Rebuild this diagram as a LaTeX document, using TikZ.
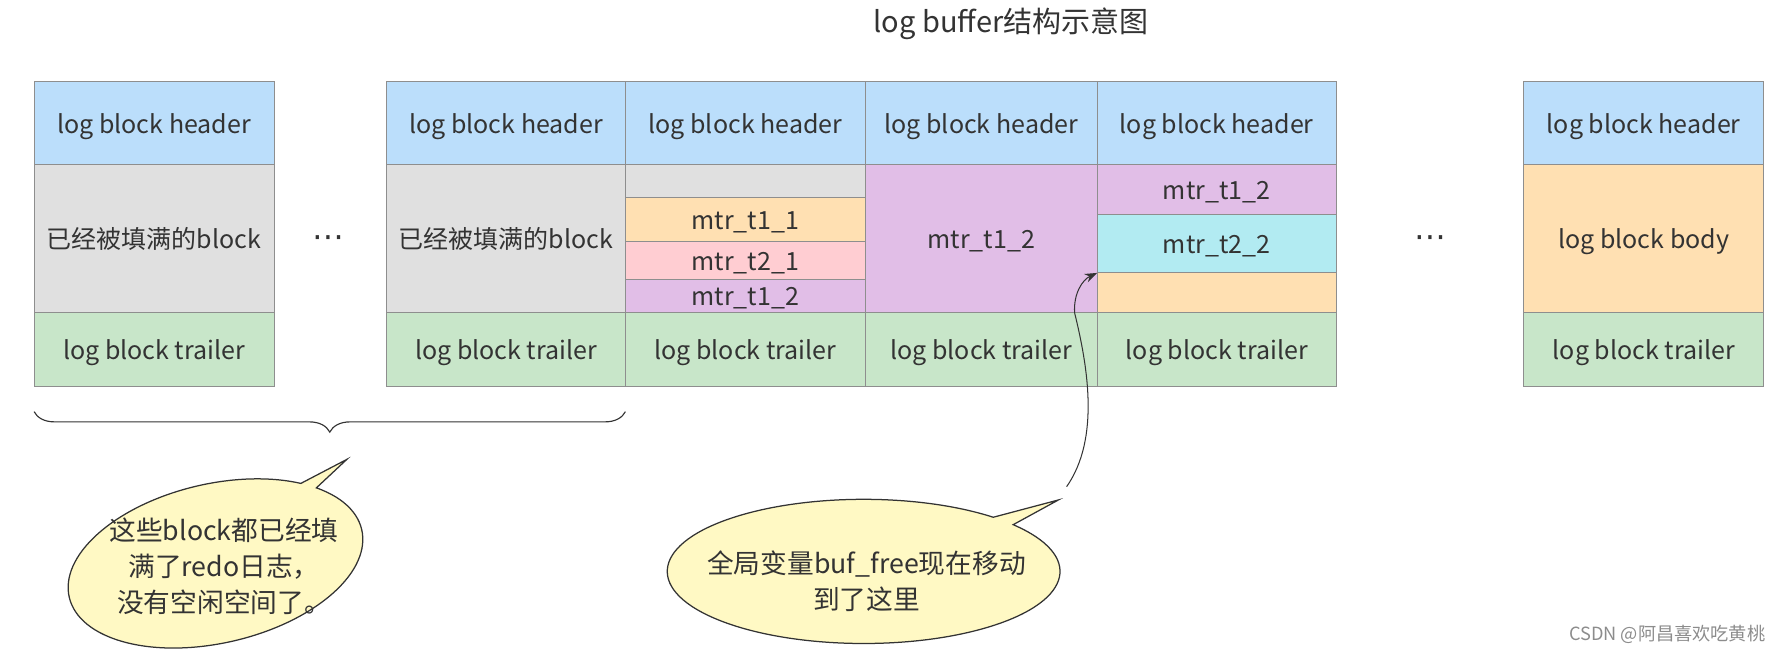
\documentclass[tikz,border=0pt]{standalone}
\usepackage{fontspec}
\setmainfont{Noto Sans CJK SC}
\newfontfamily\symfont{DejaVu Sans}
\usetikzlibrary{arrows.meta, positioning, decorations.pathreplacing}

\definecolor{headblue}{HTML}{BBDEFB}
\definecolor{fullgray}{HTML}{E0E0E0}
\definecolor{trailgreen}{HTML}{C8E6C9}
\definecolor{mtrorange}{HTML}{FFE0B2}
\definecolor{mtrpink}{HTML}{FFCDD2}
\definecolor{mtrpurple}{HTML}{E1BEE7}
\definecolor{mtrcyan}{HTML}{B2EBF2}
\definecolor{notefill}{HTML}{FFF9C4}
\definecolor{cellline}{HTML}{8E8E8E}
\definecolor{textdark}{HTML}{333333}

\begin{document}
\begin{tikzpicture}[x=1pt, y=-1pt]
    % --- Style Definitions ---
    \tikzset{
        % one cell of a log block
        cell style/.style={
            draw=cellline,
            line width=0.9pt,
            inner sep=0pt,
            outer sep=0pt,
            text=textdark,
            font=\fontsize{22}{26}\selectfont,
            text height=17pt,
            text depth=0pt,
            anchor=north west
        },
        % Fills and heights
        head fill/.style={fill=headblue, minimum height=73pt},
        full fill/.style={fill=fullgray, minimum height=130pt},
        trail fill/.style={fill=trailgreen, minimum height=65pt},
        body fill/.style={fill=mtrorange, minimum height=130pt},
        % Text styling
        title text/.style={font=\fontsize{25.5}{28}\selectfont, text=textdark},
        dots text/.style={font=\symfont\fontsize{28}{30}\selectfont, text=textdark},
        note text/.style={font=\fontsize{23.5}{32}\selectfont, align=center, text=textdark},
        mark text/.style={font=\fontsize{16}{18}\selectfont, text=black!45},
        % Callout bubble
        note style/.style={draw=textdark, line width=1.1pt, fill=notefill},
        % Brace and arrow
        group brace/.style={
            decorate,
            decoration={brace, mirror, amplitude=18pt},
            draw=textdark,
            line width=1pt
        },
        pointer arrow/.style={
            -{Stealth[length=11pt, width=8pt]},
            draw=textdark,
            line width=0.9pt
        }
    }

    \useasboundingbox (0,0) rectangle (1568,577);

    % Title
    \node[title text] (title) at (889,21) {log buffer结构示意图};

    % ==========================================
    % FIRST BLOCK (already filled)
    % ==========================================
    \node[cell style, head fill, minimum width=211pt] (b1_head) at (30,72) {log block header};
    \node[cell style, full fill, minimum width=211pt, below=0pt of b1_head] (b1_body) {已经被填满的block};
    \node[cell style, trail fill, minimum width=211pt, below=0pt of b1_body] (b1_trail) {log block trailer};

    \node[dots text] (dots_left) at (289,212) {⋯};

    % ==========================================
    % SECOND GROUP OF BLOCKS
    % ==========================================
    % 1. filled block
    \node[cell style, head fill, minimum width=210pt] (b2_head) at (340,72) {log block header};
    \node[cell style, full fill, minimum width=210pt, below=0pt of b2_head] (b2_body) {已经被填满的block};
    \node[cell style, trail fill, minimum width=210pt, below=0pt of b2_body] (b2_trail) {log block trailer};

    % 2. block holding mtr_t1_1, mtr_t2_1, mtr_t1_2
    \node[cell style, head fill, minimum width=211pt, right=0pt of b2_head] (b3_head) {log block header};
    \node[cell style, fill=fullgray, minimum width=211pt, minimum height=29pt, below=0pt of b3_head] (b3_used) {};
    \node[cell style, fill=mtrorange, minimum width=211pt, minimum height=38.5pt, below=0pt of b3_used] (b3_t11) {mtr\_t1\_1};
    \node[cell style, fill=mtrpink, minimum width=211pt, minimum height=33pt, below=0pt of b3_t11] (b3_t21) {mtr\_t2\_1};
    \node[cell style, fill=mtrpurple, minimum width=211pt, minimum height=29.5pt, below=0pt of b3_t21] (b3_t12) {mtr\_t1\_2};
    \node[cell style, trail fill, minimum width=211pt, below=0pt of b3_t12] (b3_trail) {log block trailer};

    % 3. block filled by mtr_t1_2
    \node[cell style, head fill, minimum width=204pt, right=0pt of b3_head] (b4_head) {log block header};
    \node[cell style, fill=mtrpurple, minimum width=204pt, minimum height=130pt, below=0pt of b4_head] (b4_t12) {mtr\_t1\_2};
    \node[cell style, trail fill, minimum width=204pt, below=0pt of b4_t12] (b4_trail) {log block trailer};

    % 4. block holding mtr_t1_2, mtr_t2_2 and free space
    \node[cell style, head fill, minimum width=210pt, right=0pt of b4_head] (b5_head) {log block header};
    \node[cell style, fill=mtrpurple, minimum width=210pt, minimum height=44pt, below=0pt of b5_head] (b5_t12) {mtr\_t1\_2};
    \node[cell style, fill=mtrcyan, minimum width=210pt, minimum height=51pt, below=0pt of b5_t12] (b5_t22) {mtr\_t2\_2};
    \node[cell style, fill=mtrorange, minimum width=210pt, minimum height=35pt, below=0pt of b5_t22] (b5_free) {};
    \node[cell style, trail fill, minimum width=210pt, below=0pt of b5_free] (b5_trail) {log block trailer};

    \node[dots text] (dots_right) at (1258,212) {⋯};

    % ==========================================
    % LAST BLOCK
    % ==========================================
    \node[cell style, head fill, minimum width=211pt] (bn_head) at (1340,72) {log block header};
    \node[cell style, body fill, minimum width=211pt, below=0pt of bn_head] (bn_body) {log block body};
    \node[cell style, trail fill, minimum width=211pt, below=0pt of bn_body] (bn_trail) {log block trailer};

    % ==========================================
    % ANNOTATIONS
    % ==========================================
    % brace under the filled blocks
    \coordinate (brace_left) at (30,362);
    \coordinate (brace_right) at (550,362);
    \draw[group brace] (brace_left) -- (brace_right);

    % bubble: filled blocks
    \coordinate (note_full_c) at (189.5,495.5);
    \coordinate (note_full_tip) at (305,404);
    \begin{scope}[shift={(note_full_c)}, rotate=13]
        \filldraw[note style] (-39.8:132 and 70)
            arc[start angle=-39.8, end angle=312.4, x radius=132, y radius=70]
            -- (note_full_tip) -- cycle;
    \end{scope}
    \node[note text] (note_full) at (197,498) {这些block都已经填\\满了redo日志，\\没有空闲空间了。};

    % bubble: buf_free
    \coordinate (note_free_c) at (759.5,502.5);
    \coordinate (note_free_tip) at (930.7,439.7);
    \begin{scope}[shift={(note_free_c)}]
        \filldraw[note style] (-40.4:172.7 and 63.4)
            arc[start angle=-40.4, end angle=311.3, x radius=172.7, y radius=63.4]
            -- (note_free_tip) -- cycle;
    \end{scope}
    \node[note text] (note_free) at (762,511) {全局变量buf\_free现在移动\\到了这里};

    % pointer to the free space
    \coordinate (ptr_start) at (938,428);
    \coordinate (ptr_bend) at (945,275);
    \draw[pointer arrow] (ptr_start) .. controls +(30,-43) and +(11,45) .. (ptr_bend)
        .. controls +(-1,-17) and +(-13,6) .. (b5_free.north west);

    % watermark
    \node[mark text, anchor=east] (watermark) at (1556,558) {CSDN @阿昌喜欢吃黄桃};

\end{tikzpicture}
\end{document}
